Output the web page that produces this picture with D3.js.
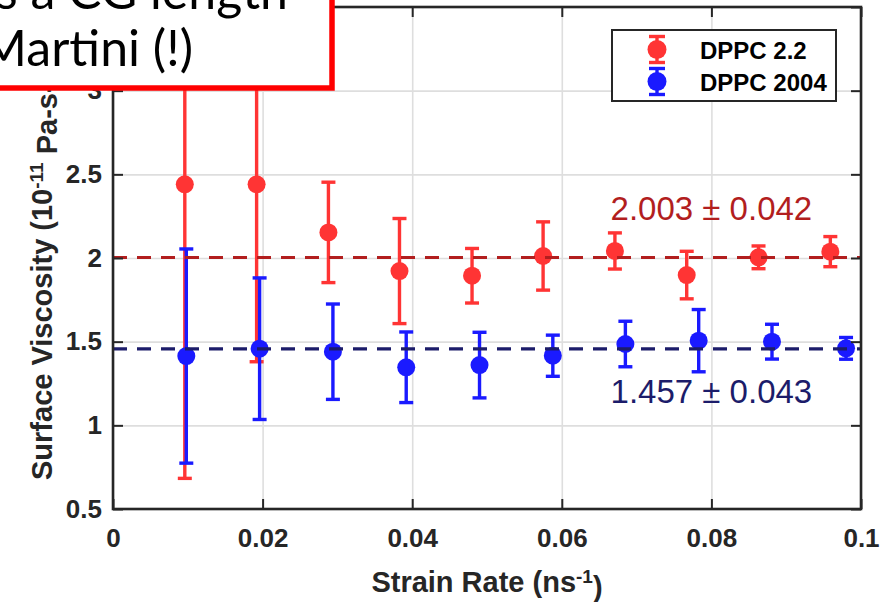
<!DOCTYPE html>
<html>
<head>
<meta charset="utf-8">
<script src="https://cdn.jsdelivr.net/npm/d3@7"></script>
<style>
  body { margin: 0; background: #fff; }
  svg { display: block; }
</style>
</head>
<body>
<div id="chart"></div>
<script>
// strain rate (ns^-1) and surface viscosity (1e-11 Pa-s-m)
var rate22 = [0.0096, 0.0192, 0.0288, 0.0383, 0.0480, 0.0575, 0.0671, 0.0767, 0.0863, 0.0959];
var visc22 = [2.440, 2.440, 2.153, 1.922, 1.894, 2.012, 2.042, 1.898, 2.004, 2.038];
var err22 = [1.757, 1.060, 0.300, 0.314, 0.163, 0.204, 0.108, 0.142, 0.068, 0.090];

var rate2004 = [0.0098, 0.0196, 0.0294, 0.0392, 0.0490, 0.0588, 0.0685, 0.0783, 0.0881, 0.0980];
var visc2004 = [1.414, 1.458, 1.440, 1.347, 1.360, 1.416, 1.486, 1.506, 1.500, 1.460];
var err2004 = [0.640, 0.423, 0.285, 0.211, 0.196, 0.123, 0.136, 0.186, 0.104, 0.065];

var fitMean = [2.003, 1.457];
var fitErr = [0.042, 0.043];
var seriesNames = ["DPPC 2.2", "DPPC 2004"];

var xTicks = [0, 0.02, 0.04, 0.06, 0.08, 0.1];
var yTicks = [0.5, 1, 1.5, 2, 2.5, 3, 3.5];
var noteLines = ["Only uses a CG length", "Martini (!)"];

var width = 881;
var height = 602;
var plotL = 113, plotR = 861, plotT = 7, plotB = 509;

var pointRed = "#ff3434";
var pointBlue = "#1a1aff";
var lineRed = "#b21e1e";
var lineBlue = "#1c1c6a";
var axisColor = "#262626";
var font = "'Liberation Sans', Arial, Helvetica, sans-serif";

var x = d3.scaleLinear().domain([0, 0.1]).range([plotL, plotR]);
var y = d3.scaleLinear().domain([0.5, 3.5]).range([plotB, plotT]);

var svg = d3.select("#chart")
  .append("svg")
  .attr("width", width)
  .attr("height", height);

svg.append("defs").append("clipPath")
  .attr("id", "plotclip")
  .append("rect")
  .attr("x", plotL).attr("y", plotT)
  .attr("width", plotR - plotL).attr("height", plotB - plotT);

// grid
var grid = svg.append("g");
grid.append("g")
  .attr("transform", "translate(0," + plotB + ")")
  .call(d3.axisBottom(x).tickValues(xTicks).tickSize(-(plotB - plotT)).tickFormat(""))
  .call(function(g) { g.select(".domain").remove(); });
grid.append("g")
  .attr("transform", "translate(" + plotL + ",0)")
  .call(d3.axisLeft(y).tickValues(yTicks).tickSize(-(plotR - plotL)).tickFormat(""))
  .call(function(g) { g.select(".domain").remove(); });
grid.selectAll("line").attr("stroke", "#dedede").attr("stroke-width", 1.6);

var plot = svg.append("g").attr("clip-path", "url(#plotclip)");

function errorBars(g, xs, ys, es, color) {
  var pts = xs.map(function(d, i) { return { x: d, y: ys[i], e: es[i] }; });
  var s = g.selectAll(null)
    .data(pts)
    .enter().append("g");
  s.append("line")
    .attr("x1", function(d) { return x(d.x); })
    .attr("x2", function(d) { return x(d.x); })
    .attr("y1", function(d) { return y(d.y - d.e); })
    .attr("y2", function(d) { return y(d.y + d.e); });
  s.append("line")
    .attr("x1", function(d) { return x(d.x) - 7; })
    .attr("x2", function(d) { return x(d.x) + 7; })
    .attr("y1", function(d) { return y(d.y - d.e); })
    .attr("y2", function(d) { return y(d.y - d.e); });
  s.append("line")
    .attr("x1", function(d) { return x(d.x) - 7; })
    .attr("x2", function(d) { return x(d.x) + 7; })
    .attr("y1", function(d) { return y(d.y + d.e); })
    .attr("y2", function(d) { return y(d.y + d.e); });
  s.selectAll("line").attr("stroke", color).attr("stroke-width", 3.4);
  s.append("circle")
    .attr("cx", function(d) { return x(d.x); })
    .attr("cy", function(d) { return y(d.y); })
    .attr("r", 9)
    .attr("fill", color);
}

errorBars(plot, rate22, visc22, err22, pointRed);
errorBars(plot, rate2004, visc2004, err2004, pointBlue);

// mean lines
var lineColors = [lineRed, lineBlue];
plot.selectAll(".fit")
  .data(fitMean)
  .enter().append("line")
  .attr("x1", x(0)).attr("x2", x(0.1))
  .attr("y1", function(d) { return y(d); })
  .attr("y2", function(d) { return y(d); })
  .attr("stroke", function(d, i) { return lineColors[i]; })
  .attr("stroke-width", 3.2)
  .attr("stroke-dasharray", "14,10");

// axes, ticks inward on all four sides
function styleAxis(g) {
  g.select(".domain").remove();
  g.selectAll(".tick line").attr("stroke", axisColor).attr("stroke-width", 2);
  g.selectAll(".tick text")
    .attr("fill", axisColor)
    .style("font-family", font)
    .style("font-weight", "bold")
    .style("font-size", "26px");
}

svg.append("g")
  .attr("transform", "translate(0," + plotB + ")")
  .call(d3.axisBottom(x).tickValues(xTicks).tickSize(-10).tickPadding(20).tickFormat(d3.format("")))
  .call(styleAxis);
svg.append("g")
  .attr("transform", "translate(0," + plotT + ")")
  .call(d3.axisTop(x).tickValues(xTicks).tickSize(-10).tickFormat(""))
  .call(styleAxis);
svg.append("g")
  .attr("transform", "translate(" + plotL + ",0)")
  .call(d3.axisLeft(y).tickValues(yTicks).tickSize(-10).tickPadding(11).tickFormat(d3.format("")))
  .call(styleAxis);
svg.append("g")
  .attr("transform", "translate(" + plotR + ",0)")
  .call(d3.axisRight(y).tickValues(yTicks).tickSize(-10).tickFormat(""))
  .call(styleAxis);

svg.append("rect")
  .attr("x", plotL).attr("y", plotT)
  .attr("width", plotR - plotL).attr("height", plotB - plotT)
  .attr("fill", "none")
  .attr("stroke", axisColor)
  .attr("stroke-width", 2.6);

// axis titles
var xt = svg.append("text")
  .attr("x", (plotL + plotR) / 2)
  .attr("y", 592)
  .attr("text-anchor", "middle")
  .attr("fill", axisColor)
  .style("font-family", font)
  .style("font-weight", "bold")
  .style("font-size", "29px");
xt.append("tspan").text("Strain Rate (ns");
xt.append("tspan").attr("dy", "-0.45em").style("font-size", "19px").text("-1");
xt.append("tspan").attr("dy", "0.45em").text(")");

var yt = svg.append("text")
  .attr("transform", "translate(52,480) rotate(-90)")
  .attr("text-anchor", "start")
  .attr("fill", axisColor)
  .style("font-family", font)
  .style("font-weight", "bold")
  .style("font-size", "29px");
yt.append("tspan").text("Surface Viscosity (10");
yt.append("tspan").attr("dy", "-0.45em").style("font-size", "19px").text("-11");
yt.append("tspan").attr("dy", "0.45em").text(" Pa-s-m)");

// fit labels
var fitColors = [lineRed, lineBlue];
var fitOffset = [-37, 54];
svg.selectAll(".fitlabel")
  .data(fitMean)
  .enter().append("text")
  .attr("x", x(0.08))
  .attr("y", function(d, i) { return y(d) + fitOffset[i]; })
  .attr("text-anchor", "middle")
  .attr("fill", function(d, i) { return fitColors[i]; })
  .style("font-family", font)
  .style("font-size", "33px")
  .text(function(d, i) { return d.toFixed(3) + " \u00b1 " + fitErr[i].toFixed(3); });

// legend
var legend = svg.append("g");
legend.append("rect")
  .attr("x", 612).attr("y", 30)
  .attr("width", 224).attr("height", 71)
  .attr("fill", "#fff")
  .attr("stroke", axisColor)
  .attr("stroke-width", 2);
var legColors = [pointRed, pointBlue];
var li = legend.selectAll(".item")
  .data(seriesNames)
  .enter().append("g")
  .attr("transform", function(d, i) { return "translate(657," + (49.5 + i * 32) + ")"; });
li.each(function(d, i) {
  var g = d3.select(this);
  g.append("line").attr("x1", 0).attr("x2", 0).attr("y1", -13).attr("y2", 13);
  g.append("line").attr("x1", -8).attr("x2", 8).attr("y1", -13).attr("y2", -13);
  g.append("line").attr("x1", -8).attr("x2", 8).attr("y1", 13).attr("y2", 13);
  g.selectAll("line").attr("stroke", legColors[i]).attr("stroke-width", 3.4);
  g.append("circle").attr("r", 9.5).attr("fill", legColors[i]);
});
li.append("text")
  .attr("x", 43)
  .attr("y", 9)
  .attr("fill", "#000")
  .style("font-family", font)
  .style("font-weight", "bold")
  .style("font-size", "24px")
  .text(function(d) { return d; });

// red callout box in the corner
var note = svg.append("g");
note.append("rect")
  .attr("x", -10).attr("y", -10)
  .attr("width", 342).attr("height", 98)
  .attr("fill", "#fff")
  .attr("stroke", "#ff0000")
  .attr("stroke-width", 5.5);
note.selectAll(".noteline")
  .data(noteLines)
  .enter().append("text")
  .attr("x", function(d, i) { return i === 0 ? 288 : 193; })
  .attr("y", function(d, i) { return 9 + i * 57; })
  .attr("text-anchor", "end")
  .attr("fill", "#000")
  .style("font-family", "Lato, 'Open Sans', sans-serif")
  .style("font-size", "50px")
  .text(function(d) { return d; });
</script>
</body>
</html>
